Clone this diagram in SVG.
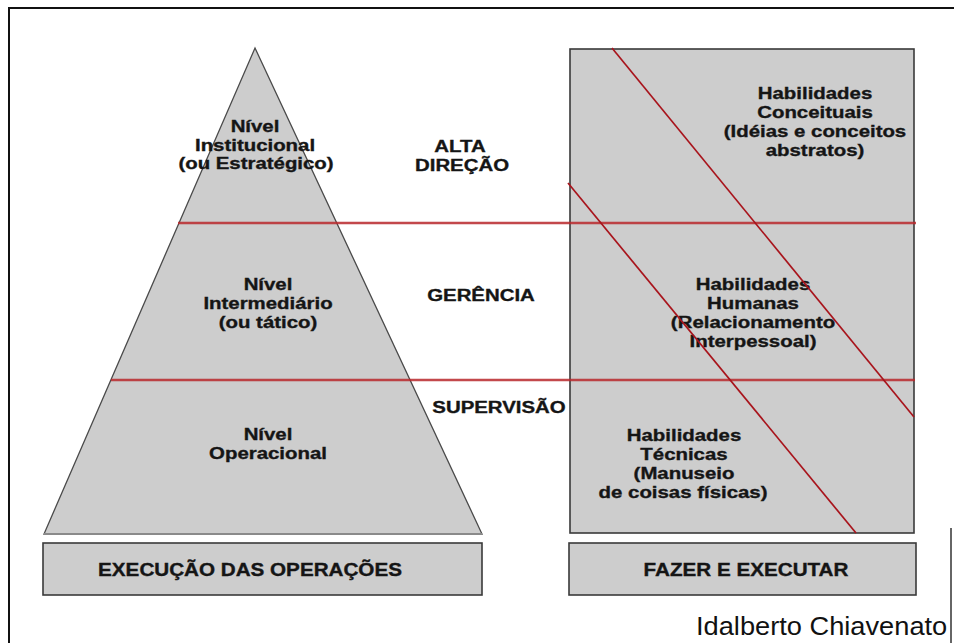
<svg xmlns="http://www.w3.org/2000/svg" width="954" height="643" viewBox="0 0 954 643">
<style>
.bg{fill:#ffffff}
.frame{fill:none;stroke:#111;stroke-width:2}
.shape{fill:#cdcdcd;stroke:#4a4a4a;stroke-width:1.3}
.box{fill:#cdcdcd;stroke:#3a3a3a;stroke-width:1.6}
.hline{stroke:#b8282c;stroke-width:2.4;stroke-opacity:0.85}
.dline{stroke:#a8141c;stroke-width:1.7}
.t{font-family:"Liberation Sans",Arial,sans-serif;font-weight:bold;font-size:17px;fill:#151515;stroke:#151515;stroke-width:0.35;text-anchor:middle}
.tb{font-family:"Liberation Sans",Arial,sans-serif;font-weight:bold;font-size:17.5px;fill:#151515;stroke:#151515;stroke-width:0.35;text-anchor:middle}
.cr{font-family:"Liberation Sans",Arial,sans-serif;font-size:25px;fill:#111}
</style>
<rect class="bg" x="0" y="0" width="954" height="643"/>
<path class="frame" d="M9,643 V8 H954"/>
<line x1="951" y1="528" x2="951" y2="643" stroke="#333" stroke-width="1.5"/>

<g id="pyramid">
  <polygon class="shape" points="255,48 482,534 44,534"/>
  <line x1="44" y1="534" x2="482" y2="534" stroke="#8a8a8a" stroke-width="2"/>
  <g transform="translate(255 0)">
    <text class="t" transform="translate(0 132) scale(1.2 1)">Nível</text>
    <text class="t" transform="translate(0 151) scale(1.2 1)">Institucional</text>
    <text class="t" transform="translate(1 169) scale(1.2 1)">(ou Estratégico)</text>
  </g>
  <g transform="translate(268 0)">
    <text class="t" transform="translate(0 290) scale(1.2 1)">Nível</text>
    <text class="t" transform="translate(0 309) scale(1.2 1)">Intermediário</text>
    <text class="t" transform="translate(0 328) scale(1.2 1)">(ou tático)</text>
  </g>
  <g transform="translate(268 0)">
    <text class="t" transform="translate(0 440) scale(1.2 1)">Nível</text>
    <text class="t" transform="translate(0 459) scale(1.2 1)">Operacional</text>
  </g>
</g>

<g id="skills">
  <rect class="box" x="570" y="49" width="344" height="484"/>
  <text class="t" transform="translate(815 99) scale(1.2 1)">Habilidades</text>
  <text class="t" transform="translate(815 118) scale(1.2 1)">Conceituais</text>
  <text class="t" transform="translate(815 137) scale(1.2 1)">(Idéias e conceitos</text>
  <text class="t" transform="translate(815 156) scale(1.2 1)">abstratos)</text>
  <text class="t" transform="translate(753 290) scale(1.2 1)">Habilidades</text>
  <text class="t" transform="translate(753 309) scale(1.2 1)">Humanas</text>
  <text class="t" transform="translate(753 328) scale(1.2 1)">(Relacionamento</text>
  <text class="t" transform="translate(753 347) scale(1.2 1)">Interpessoal)</text>
  <text class="t" transform="translate(684 441) scale(1.2 1)">Habilidades</text>
  <text class="t" transform="translate(684 460) scale(1.2 1)">Técnicas</text>
  <text class="t" transform="translate(684 479) scale(1.2 1)">(Manuseio</text>
  <text class="t" transform="translate(683 498) scale(1.2 1)">de coisas físicas)</text>
</g>

<g id="levels">
  <text class="t" transform="translate(460 152) scale(1.2 1)">ALTA</text>
  <text class="t" transform="translate(462 171) scale(1.2 1)">DIREÇÃO</text>
  <text class="t" transform="translate(481 301) scale(1.2 1)">GERÊNCIA</text>
  <text class="t" transform="translate(499 413) scale(1.2 1)">SUPERVISÃO</text>
</g>

<g id="connectors">
  <line class="hline" x1="178" y1="223" x2="916" y2="223"/>
  <line class="hline" x1="111" y1="380" x2="915" y2="380"/>
  <line class="dline" x1="612" y1="48" x2="914" y2="417"/>
  <line class="dline" x1="568" y1="183" x2="856" y2="533"/>
</g>

<g id="bottom-left">
  <rect class="box" x="43" y="543" width="439" height="52"/>
  <text class="tb" transform="translate(250 576) scale(1.18 1)">EXECUÇÃO DAS OPERAÇÕES</text>
</g>
<g id="bottom-right">
  <rect class="box" x="569" y="543" width="347" height="52"/>
  <text class="tb" transform="translate(746 576) scale(1.18 1)">FAZER E EXECUTAR</text>
</g>

<text id="author" class="cr" transform="translate(696 635) scale(1.09 1)">Idalberto Chiavenato</text>
</svg>
